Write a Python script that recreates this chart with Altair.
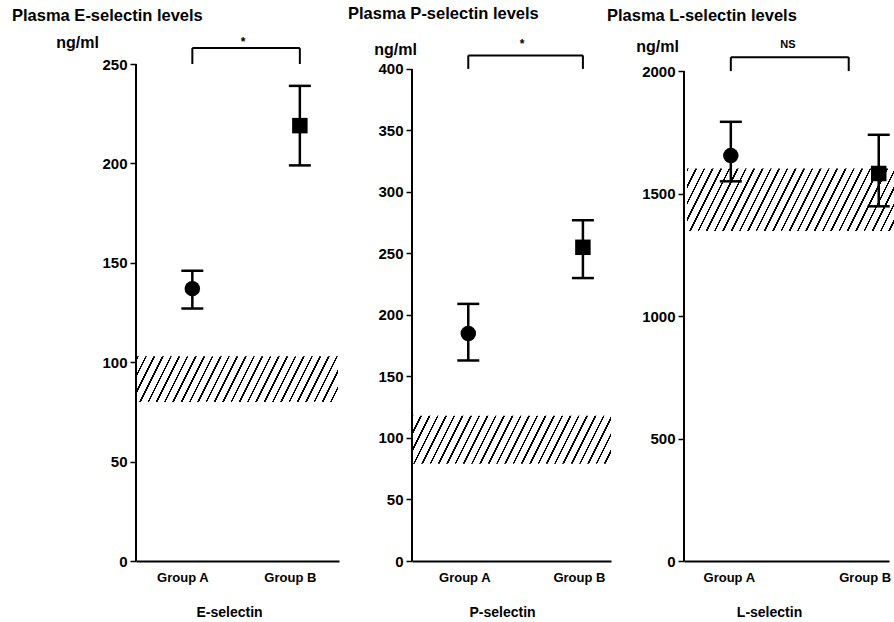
import altair as alt
import pandas as pd

# ---------------- data ----------------
groups = ["Group A", "Group B"]
point_shapes = ["circle", "square"]
molecules = ["E-selectin", "P-selectin", "L-selectin"]
panel_titles = ["Plasma E-selectin levels", "Plasma P-selectin levels", "Plasma L-selectin levels"]
unit_label = "ng/ml"

mean_e = [137, 219]
low_e = [127, 199]
high_e = [146, 239]

mean_p = [185, 255]
low_p = [163, 230]
high_p = [209, 277]

mean_l = [1655, 1582]
low_l = [1550, 1448]
high_l = [1793, 1740]

normal_low = [80, 79, 1347]
normal_high = [103, 118, 1602]

axis_max = [250, 400, 2000]
tick_step = [50, 50, 500]
bracket_level = [258, 411, 2057]
significance = ["*", "*", "NS"]

# ---------------- layout / style ----------------
FONT = "Liberation Sans"
H = 497
widths = [203, 199, 205]
domain_top = [250, 404, 2029]
x_pad = [0.444, 0.368, 0.193]
x_align = [0.59, 0.667, 0.82]
title_xy = [(-124, -48), (-64, -50), (-77, -48)]
unit_xy = [(-59, -22), (-17, -15), (-27, -18)]
xtitle_x = [93, 90, 85]
x_label_offset = [-10, -4, -2]
x_label_flush = [False, False, 30]
sig_x = [107, 110, 104]
sig_dy = [-2, -7, -9]
sig_size = [12, 12, 11]
bracket_shift = [0, 0, -30]
band_x = [(1, 202), (0, 199), (3, 210)]


def hatch(W, Hpx, a=0.5, s_h=8.3, w=0.22):
    b = 1.0
    n = (b * W + a * Hpx) / (b * s_h)
    k = (b * W + a * Hpx) / (b * b * W * W + a * a * Hpx * Hpx)
    x2 = k * b * W
    y2 = k * a * Hpx
    stops = []
    i = 0
    while i / n < 1:
        o0 = round(i / n, 5)
        o1 = round(min((i + w) / n, 1.0), 5)
        stops += [
            alt.GradientStop(offset=o0, color="white"),
            alt.GradientStop(offset=o0, color="black"),
            alt.GradientStop(offset=o1, color="black"),
            alt.GradientStop(offset=o1, color="white"),
        ]
        i += 1
    stops.append(alt.GradientStop(offset=1, color="white"))
    return alt.LinearGradient(gradient="linear", stops=stops, x1=0, y1=0, x2=round(x2, 5), y2=round(y2, 5))


def panel(i, means, lows, highs):
    df = pd.DataFrame({"group": groups, "mean": means, "low": lows, "high": highs})
    yscale = alt.Scale(domain=[0, domain_top[i]], nice=False, zero=True)
    yaxis = alt.Axis(
        values=list(range(0, axis_max[i] + 1, tick_step[i])), format="d",
        title=unit_label, titleAngle=0, titleX=unit_xy[i][0], titleY=unit_xy[i][1],
        titleAlign="center", titleBaseline="middle", titleFontSize=16,
        domain=False, grid=False, tickSize=6, tickWidth=1.5, labelPadding=3,
        labelFontSize=15, labelOverlap=False,
    )
    xscale = alt.Scale(type="point", domain=groups, padding=x_pad[i], align=x_align[i])
    xaxis_kw = dict(
        title=molecules[i], ticks=False, tickSize=0, labelPadding=10, labelAngle=0,
        labelFontSize=13, labelOffset=x_label_offset[i], titleX=xtitle_x[i],
        titleAnchor="middle", titleAlign="center",
        titlePadding=21, titleFontSize=14, domainWidth=2, grid=False,
    )
    if x_label_flush[i]:
        xaxis_kw.update(labelFlush=x_label_flush[i], labelFlushOffset=14)
    xaxis = alt.Axis(**xaxis_kw)

    def X(f):
        return alt.X(f, type="nominal", scale=xscale, axis=xaxis)

    def Y(f):
        return alt.Y(f, type="quantitative", scale=yscale, axis=yaxis)

    band_df = pd.DataFrame({"lo": [normal_low[i]], "hi": [normal_high[i]]})
    hpx = (normal_high[i] - normal_low[i]) * H / domain_top[i]
    bx0, bx1 = band_x[i]
    band = alt.Chart(band_df).mark_rect(fill=hatch(bx1 - bx0, hpx), strokeWidth=0).encode(
        x=alt.value(bx0), x2=alt.value(bx1), y=Y("lo"), y2=alt.Y2("hi")
    )

    yline = alt.Chart(pd.DataFrame({"y0": [0], "y1": [axis_max[i]]})).mark_rule(
        strokeWidth=2, color="black"
    ).encode(x=alt.value(0), y=Y("y0"), y2=alt.Y2("y1"))

    stems = alt.Chart(df).mark_rule(strokeWidth=2.5, color="black").encode(
        x=X("group"), y=Y("low"), y2=alt.Y2("high")
    )
    cap_lo = alt.Chart(df).mark_tick(size=22, thickness=2.5, color="black", opacity=1, orient="horizontal").encode(
        x=X("group"), y=Y("low")
    )
    cap_hi = alt.Chart(df).mark_tick(size=22, thickness=2.5, color="black", opacity=1, orient="horizontal").encode(
        x=X("group"), y=Y("high")
    )
    pts = alt.Chart(df).mark_point(filled=True, size=240, color="black", opacity=1).encode(
        x=X("group"), y=Y("mean"),
        shape=alt.Shape("group:N", scale=alt.Scale(domain=groups, range=point_shapes), legend=None),
    )

    bdf = pd.DataFrame({
        "from": [groups[0]], "to": [groups[1]],
        "level": [bracket_level[i]], "top": [axis_max[i]], "label": [significance[i]],
    })
    br_h = alt.Chart(bdf).mark_rule(strokeWidth=2, color="black", x2Offset=bracket_shift[i]).encode(
        x=X("from"), x2=alt.X2("to"), y=Y("level")
    )
    br_l = alt.Chart(bdf).mark_rule(strokeWidth=2, color="black").encode(
        x=X("from"), y=Y("level"), y2=alt.Y2("top")
    )
    br_r = alt.Chart(bdf).mark_rule(strokeWidth=2, color="black", xOffset=bracket_shift[i]).encode(
        x=X("to"), y=Y("level"), y2=alt.Y2("top")
    )
    sig = alt.Chart(bdf).mark_text(
        fontSize=sig_size[i], fontWeight="bold", baseline="alphabetic", dy=sig_dy[i], color="black"
    ).encode(text="label:N", x=alt.value(sig_x[i]), y=Y("level"))

    ttl = alt.Chart(pd.DataFrame({"t": [panel_titles[i]]})).mark_text(
        align="left", baseline="middle", fontSize=16.5, fontWeight="bold", color="black"
    ).encode(text="t:N", x=alt.value(title_xy[i][0]), y=alt.value(title_xy[i][1]))

    return alt.layer(band, yline, stems, cap_lo, cap_hi, pts, br_h, br_l, br_r, sig, ttl).properties(
        width=widths[i], height=H
    )


p1 = panel(0, mean_e, low_e, high_e)
p2 = panel(1, mean_p, low_p, high_p)
p3 = panel(2, mean_l, low_l, high_l)

chart = alt.hconcat(p1, p2, p3, spacing=73, bounds="flush").properties(
    padding={"left": 12, "top": 6, "right": 0, "bottom": 0}, background="white"
).configure_view(stroke=None).configure_axis(
    labelFont=FONT, titleFont=FONT, labelFontWeight="bold", titleFontWeight="bold",
    labelColor="black", titleColor="black", domainColor="black", tickColor="black",
).configure_text(font=FONT)

chart.save("out.html", embed_options={"renderer": "svg", "actions": False})
